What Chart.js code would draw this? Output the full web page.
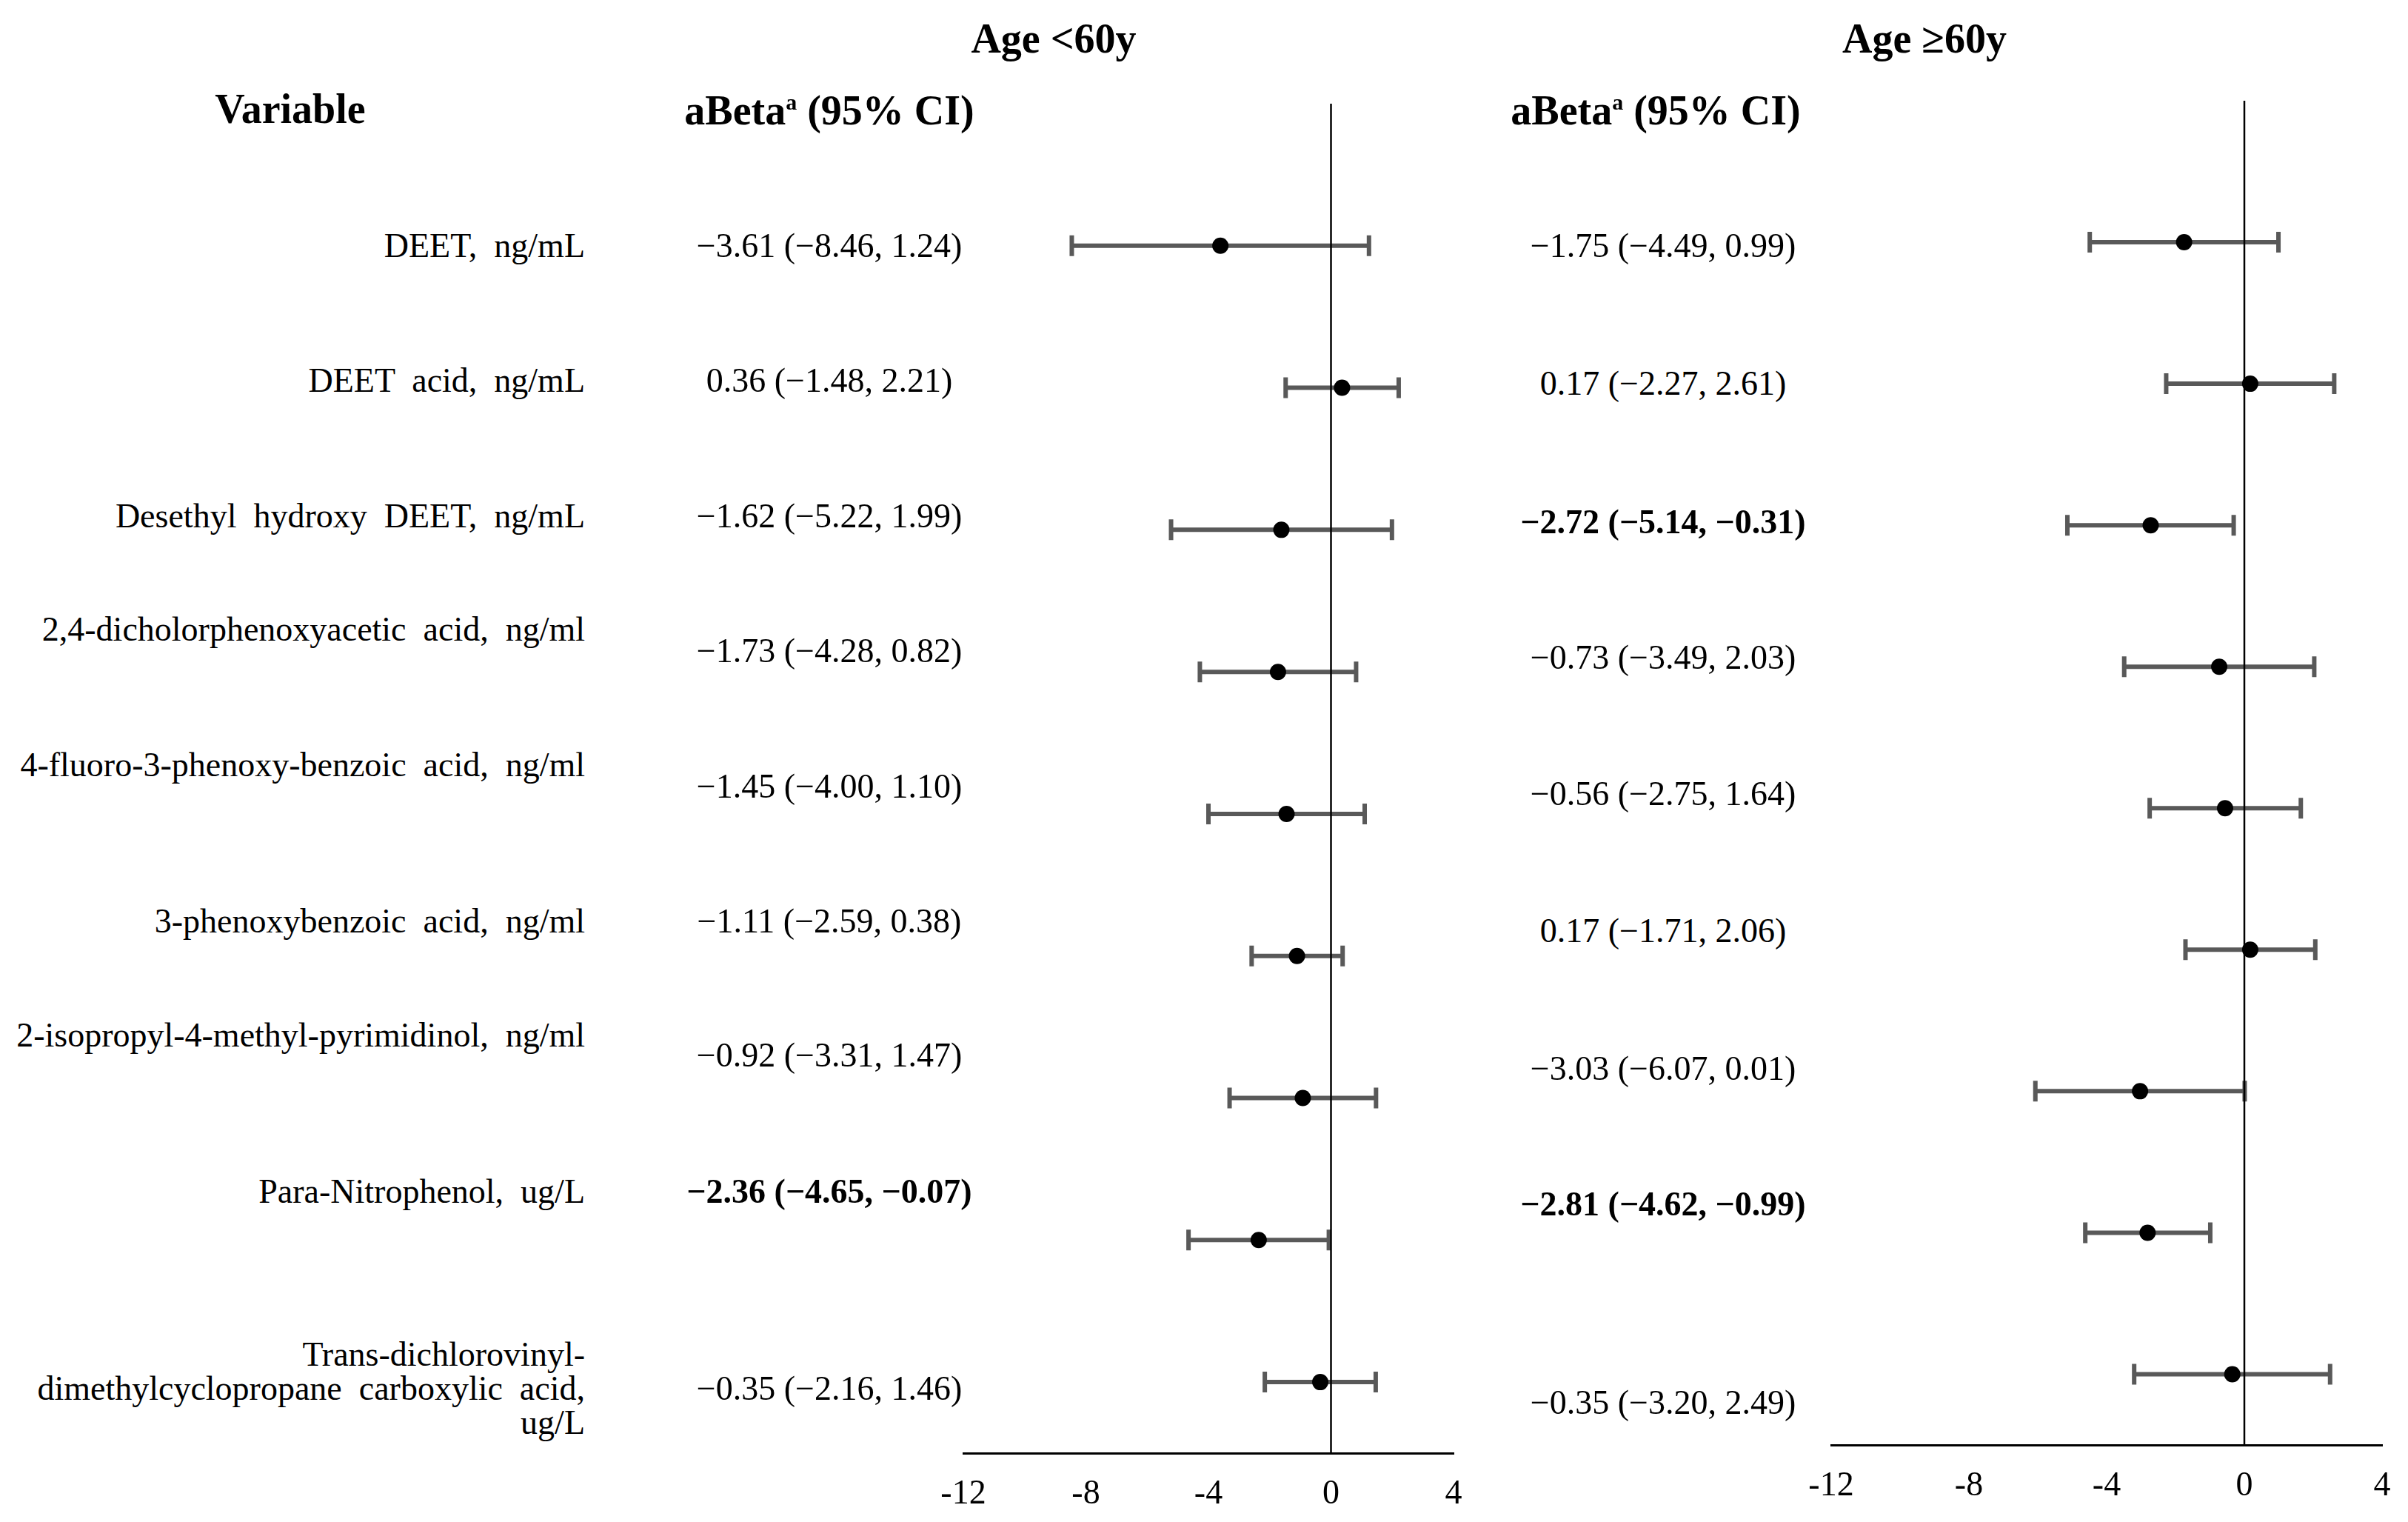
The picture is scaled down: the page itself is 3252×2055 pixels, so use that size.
<!DOCTYPE html>
<html lang="en">
<head>
    <meta charset="UTF-8">
    <title>aBeta by age group</title>
    <script src="https://cdn.jsdelivr.net/npm/chart.js"></script>
    <style>
        body { margin: 0; width: 3252px; height: 2055px; position: relative; overflow: hidden; background: #fff; }
        canvas { position: absolute; }
        .txt { position: absolute; font-family: 'Liberation Serif', 'Times New Roman', serif; font-size: 46px; color: #000; white-space: pre; line-height: 1; }
        .bold { font-weight: bold; }
        .head { font-weight: bold; font-size: 56px; }
        sup { font-size: 30px; vertical-align: 20px; }
    </style>
</head>
<body>
    <canvas id="youngChart" width="742" height="1922" style="left:1251px; top:120px"></canvas>
    <canvas id="oldChart" width="824" height="1915" style="left:2423px; top:116px"></canvas>

    <script>
        // data
        const variables = [
            'DEET,  ng/mL',
            'DEET  acid,  ng/mL',
            'Desethyl  hydroxy  DEET,  ng/mL',
            '2,4-dicholorphenoxyacetic  acid,  ng/ml',
            '4-fluoro-3-phenoxy-benzoic  acid,  ng/ml',
            '3-phenoxybenzoic  acid,  ng/ml',
            '2-isopropyl-4-methyl-pyrimidinol,  ng/ml',
            'Para-Nitrophenol,  ug/L',
            'Trans-dichlorovinyl-\ndimethylcyclopropane  carboxylic  acid,\nug/L'
        ];
        const estYoung = [-3.61, 0.36, -1.62, -1.73, -1.45, -1.11, -0.92, -2.36, -0.35];
        const loYoung  = [-8.46, -1.48, -5.22, -4.28, -4.00, -2.59, -3.31, -4.65, -2.16];
        const hiYoung  = [1.24, 2.21, 1.99, 0.82, 1.10, 0.38, 1.47, -0.07, 1.46];
        const estOld = [-1.75, 0.17, -2.72, -0.73, -0.56, 0.17, -3.03, -2.81, -0.35];
        const loOld  = [-4.49, -2.27, -5.14, -3.49, -2.75, -1.71, -6.07, -4.62, -3.20];
        const hiOld  = [0.99, 2.61, -0.31, 2.03, 1.64, 2.06, 0.01, -0.99, 2.49];
        const xTicks = [-12, -8, -4, 0, 4];

        // where the text rows sit on the page (px)
        const labelY = [332, 514, 697, 850, 1033, 1244, 1398, 1609, 1875];
        const ciYoungY = [332, 514, 697, 879, 1062, 1244, 1425, 1609, 1875];
        const ciOldY = [332, 518, 705, 888, 1072, 1257, 1443, 1626, 1894];

        function fmt(v) {
            return (v < 0 ? '\u2212' : '') + Math.abs(v).toFixed(2);
        }

        function addText(html, x, y, cls, align) {
            const d = document.createElement('div');
            d.className = 'txt ' + (cls || '');
            d.innerHTML = html;
            d.style.left = x + 'px';
            d.style.top = y + 'px';
            d.style.transform = align === 'right' ? 'translate(-100%,-50%)' : 'translate(-50%,-50%)';
            if (align === 'right') d.style.textAlign = 'right';
            document.body.appendChild(d);
        }

        // headers
        addText('Age &lt;60y', 1423, 52, 'head');
        addText('Age \u226560y', 2599, 52, 'head');
        addText('Variable', 392, 147, 'head');
        addText('aBeta<sup>a</sup> (95% CI)', 1120, 149, 'head');
        addText('aBeta<sup>a</sup> (95% CI)', 2236, 149, 'head');

        variables.forEach((v, i) => {
            addText(v, 790, labelY[i], '', 'right');
            const sigY = hiYoung[i] < 0 || loYoung[i] > 0;
            addText(fmt(estYoung[i]) + ' (' + fmt(loYoung[i]) + ', ' + fmt(hiYoung[i]) + ')', 1120, ciYoungY[i], sigY ? 'bold' : '');
            const sigO = hiOld[i] < 0 || loOld[i] > 0;
            addText(fmt(estOld[i]) + ' (' + fmt(loOld[i]) + ', ' + fmt(hiOld[i]) + ')', 2246, ciOldY[i], sigO ? 'bold' : '');
        });

        // whiskers and the zero reference line
        const errorBars = {
            id: 'errorBars',
            beforeDatasetsDraw(chart, args, opts) {
                const { ctx, chartArea } = chart;
                const x = chart.scales.x, y = chart.scales.y;
                ctx.save();
                ctx.strokeStyle = '#595959';
                ctx.lineWidth = 6;
                opts.lo.forEach((lo, i) => {
                    const yy = y.getPixelForValue(i + 1);
                    const x1 = x.getPixelForValue(lo);
                    const x2 = x.getPixelForValue(opts.hi[i]);
                    ctx.beginPath();
                    ctx.moveTo(x1, yy); ctx.lineTo(x2, yy);
                    ctx.moveTo(x1, yy - 14); ctx.lineTo(x1, yy + 14);
                    ctx.moveTo(x2, yy - 14); ctx.lineTo(x2, yy + 14);
                    ctx.stroke();
                });
                const x0 = x.getPixelForValue(0);
                ctx.strokeStyle = '#000';
                ctx.lineWidth = 2.5;
                ctx.beginPath();
                ctx.moveTo(x0, chartArea.top);
                ctx.lineTo(x0, chartArea.bottom);
                ctx.stroke();
                ctx.restore();
            }
        };

        function makeChart(id, est, lo, hi) {
            const ctx = document.getElementById(id).getContext('2d');
            return new Chart(ctx, {
                type: 'scatter',
                data: {
                    datasets: [{
                        data: est.map((v, i) => ({ x: v, y: i + 1 })),
                        backgroundColor: '#000',
                        borderWidth: 0,
                        pointRadius: 11
                    }]
                },
                options: {
                    responsive: false,
                    animation: false,
                    devicePixelRatio: 1,
                    layout: { autoPadding: false, padding: { left: 50, right: 30, top: 20, bottom: 0 } },
                    plugins: {
                        legend: { display: false },
                        tooltip: { enabled: false },
                        errorBars: { lo: lo, hi: hi }
                    },
                    scales: {
                        x: {
                            type: 'linear',
                            min: -12,
                            max: 4,
                            afterBuildTicks: s => { s.ticks = xTicks.map(v => ({ value: v })); },
                            afterFit: s => { s.height = 80; },
                            grid: { display: false, drawTicks: true, tickLength: 20 },
                            border: { display: true, color: '#000', width: 3 },
                            ticks: {
                                color: '#000',
                                padding: 8,
                                maxRotation: 0,
                                autoSkip: false,
                                font: { family: 'Liberation Serif', size: 46 }
                            }
                        },
                        y: {
                            type: 'linear',
                            min: 0,
                            max: 9.5,
                            reverse: true,
                            display: false
                        }
                    }
                },
                plugins: [errorBars]
            });
        }

        makeChart('youngChart', estYoung, loYoung, hiYoung);
        makeChart('oldChart', estOld, loOld, hiOld);
    </script>
</body>
</html>
